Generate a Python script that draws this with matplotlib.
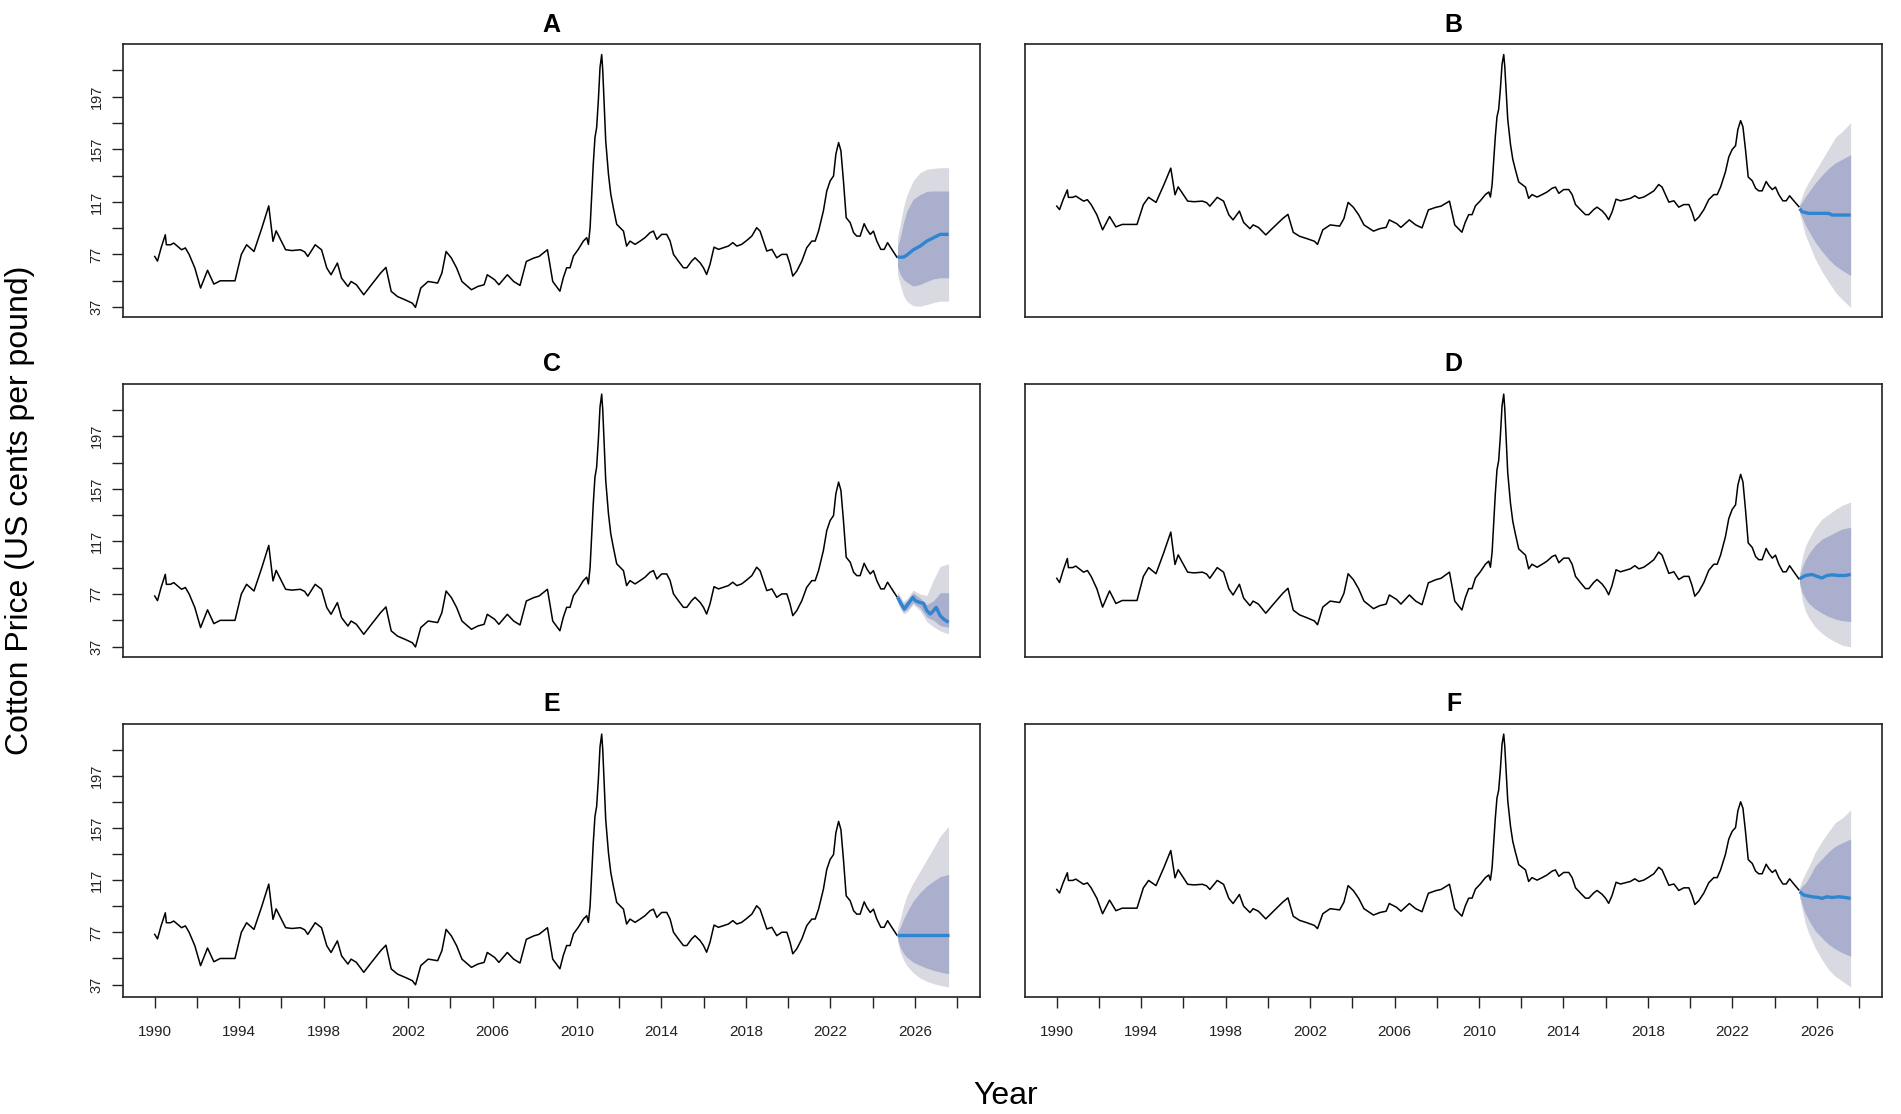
import matplotlib.pyplot as plt

plt.rcParams['font.family'] = ['Liberation Sans', 'DejaVu Sans']

# monthly cotton price, US cents per pound
hist_year = [1990.00, 1990.13, 1990.30, 1990.50, 1990.55, 1990.75, 1990.90, 1991.10, 1991.27, 1991.45,
             1991.63, 1991.90, 1992.17, 1992.50, 1992.80, 1993.10, 1993.40, 1993.80, 1994.10, 1994.35,
             1994.70, 1995.07, 1995.40, 1995.60, 1995.75, 1996.20, 1996.50, 1996.90, 1997.10, 1997.25,
             1997.60, 1997.90, 1998.15, 1998.35, 1998.65, 1998.85, 1999.15, 1999.30, 1999.55, 1999.90,
             2000.20, 2000.70, 2000.95, 2001.20, 2001.50, 2001.85, 2002.20, 2002.35, 2002.60, 2002.95,
             2003.40, 2003.60, 2003.80, 2004.05, 2004.30, 2004.55, 2005.00, 2005.30, 2005.60, 2005.75,
             2006.10, 2006.30, 2006.70, 2007.00, 2007.30, 2007.60, 2007.95, 2008.20, 2008.60, 2008.85,
             2009.19, 2009.35, 2009.51, 2009.67, 2009.83, 2010.06, 2010.30, 2010.46, 2010.54, 2010.62,
             2010.69, 2010.77, 2010.85, 2010.93, 2011.01, 2011.09, 2011.17, 2011.22, 2011.28, 2011.36,
             2011.49, 2011.60, 2011.72, 2011.88, 2012.04, 2012.20, 2012.35, 2012.51, 2012.75, 2012.99,
             2013.22, 2013.46, 2013.62, 2013.78, 2014.01, 2014.25, 2014.41, 2014.57, 2014.80, 2015.04,
             2015.20, 2015.43, 2015.59, 2015.83, 2015.99, 2016.14, 2016.30, 2016.49, 2016.70, 2016.93,
             2017.17, 2017.38, 2017.57, 2017.80, 2018.04, 2018.28, 2018.51, 2018.67, 2018.83, 2018.99,
             2019.23, 2019.46, 2019.70, 2019.94, 2020.09, 2020.22, 2020.41, 2020.65, 2020.88, 2021.12,
             2021.28, 2021.44, 2021.67, 2021.83, 2021.99, 2022.15, 2022.26, 2022.39, 2022.50, 2022.62,
             2022.75, 2022.94, 2023.10, 2023.25, 2023.41, 2023.60, 2023.73, 2023.89, 2024.04, 2024.20,
             2024.39, 2024.55, 2024.71, 2024.91, 2025.15]
hist_price = [75.5, 72, 82, 92, 84.4, 84.4, 85.7, 83, 80.6, 82,
              77, 66.7, 51.5, 65, 54.5, 57, 57, 57, 77, 84.4,
              79.3, 97, 114, 87, 95, 80.6, 80, 80.6, 79, 75.5,
              84.4, 80.6, 66.7, 61.6, 70.5, 59, 52.7, 56.5, 54, 46.4,
              52.7, 62.9, 67.2, 49, 45, 42.6, 40, 36.8, 51.5, 56.5,
              55.3, 62.9, 79.3, 74.3, 66.7, 56.5, 50.2, 52.7, 54, 61.6,
              57.8, 54, 61.6, 56.5, 53.5, 71.7, 74.3, 75.5, 80.6, 56.5,
              49.1, 59.3, 66.9, 66.9, 75.8, 80.9, 87.2, 89.8, 84.7, 97.4,
              120.2, 145.6, 165.9, 173.5, 193.8, 219.2, 229, 216.7, 193.8, 163.4,
              138, 122.8, 112.6, 100, 97.4, 94.8, 83.4, 87.2, 84.7, 87.2,
              89.8, 93.6, 94.8, 88.5, 92.3, 92.3, 87.2, 77.1, 72, 66.9,
              66.9, 72, 74.5, 70.7, 66.9, 61.8, 69.5, 82.6, 80.9, 82.1,
              83.4, 86, 83.4, 84.7, 87.7, 91, 97.4, 94.8, 87.2, 79.6,
              80.9, 74.5, 77.1, 77.1, 69.5, 60.6, 64.4, 72, 82.1, 87.2,
              87.2, 94.8, 110.1, 125.3, 132.9, 136.7, 153.2, 162.1, 155.8, 132.9,
              105, 101.2, 93.6, 91, 91, 100.4, 96.1, 92.3, 94.8, 87.2,
              80.9, 80.9, 86, 80.9, 75]

# forecast horizon used for the interval bands
fc_year = [2025.18, 2025.31, 2025.46, 2025.62, 2025.92, 2026.25, 2026.57, 2026.89, 2027.20, 2027.60]

# A
a_mean_year = fc_year
a_mean = [75, 75, 75, 76.5, 80.5, 83.4, 87.2, 89.8, 92.3, 92.3]
a_hi95 = [90, 100, 112.6, 122, 133, 139.3, 141.8, 142.5, 143, 143]
a_hi80 = [83, 90, 101, 110, 119, 122.5, 125, 125.3, 125.3, 125.3]
a_lo80 = [68, 62, 58, 56, 53, 54.2, 56.5, 58.5, 59.3, 59.3]
a_lo95 = [62, 54, 46, 41.5, 38, 37.7, 39, 40.5, 41.5, 41.5]

# B
b_mean_year = [2025.18, 2025.30, 2025.61, 2026.56, 2026.72, 2027.60]
b_mean = [73, 69.9, 68.2, 68.2, 66.5, 66.5]
b_hi95 = [78, 86, 94, 100, 110.7, 122.5, 134, 145.5, 151, 160]
b_hi80 = [76, 80, 85.2, 90, 98.8, 107, 114, 119.5, 123, 127.7]
b_lo80 = [70, 64, 56.3, 50, 39.3, 29.5, 21.5, 15, 10.5, 5.3]
b_lo95 = [68, 58, 46, 38, 22.3, 9, -1.5, -12, -19, -27]

# C
c_mean_year = [2025.18, 2025.31, 2025.50, 2025.62, 2025.91, 2026.02, 2026.22, 2026.41, 2026.57,
               2026.73, 2026.89, 2027.01, 2027.20, 2027.36, 2027.60]
c_mean = [74.5, 70.7, 65.6, 68.2, 74.5, 72, 70.7, 69.9, 64.4, 61.8, 64.4, 66.9, 60.6, 58, 55.5]
c_hi95 = [78.5, 75.5, 71.5, 73.5, 80, 77, 76, 88, 98, 100]
c_hi80 = [77, 74, 69.5, 71.5, 78, 74, 69, 72, 78, 78]
c_lo80 = [72, 67.5, 63.5, 65, 70.5, 66.5, 59.5, 57, 53, 51.7]
c_lo95 = [70.5, 66, 62, 63, 69, 64.5, 56, 52, 49, 46.6]

# D
d_mean_year = [2025.18, 2025.45, 2025.77, 2026.08, 2026.24, 2026.48, 2026.72, 2027.03, 2027.35, 2027.60]
d_mean = [75, 77.8, 78.7, 76.7, 75.8, 77.8, 78.4, 77.8, 77.8, 78.7]
d_hi95 = [80, 93, 102.5, 108, 117.5, 125, 129, 133, 136.3, 139.1]
d_hi80 = [77, 85, 91, 96, 103, 108.2, 111, 114, 116.6, 118]
d_lo80 = [72, 63.5, 58.5, 54.5, 50, 46.4, 43.5, 41.5, 40.2, 39.4]
d_lo95 = [70, 57, 48, 42.5, 35, 29.5, 25.5, 22.5, 19.7, 18.3]

# E
e_mean_year = [2025.18, 2027.60]
e_mean = [75, 75]
e_hi95 = [80, 87.2, 97, 105, 115, 124, 133, 141.8, 150.7, 158.3]
e_hi80 = [77.5, 80.9, 87, 92.3, 101, 107.6, 112.6, 116.4, 119.7, 121.5]
e_lo80 = [72.5, 65.6, 61, 58, 54.2, 51.7, 49.6, 47.9, 46.6, 45.3]
e_lo95 = [70, 61.8, 56, 51.7, 46.1, 42, 39.5, 37.7, 36.4, 35.2]

# F
f_mean_year = [2025.18, 2025.38, 2025.77, 2026.08, 2026.24, 2026.48, 2026.72, 2027.03, 2027.35, 2027.60]
f_mean = [73.4, 70, 68.3, 67.6, 66.6, 68.3, 67.5, 68.3, 67.6, 66.6]
f_hi95 = [78, 85, 91.8, 98, 112, 123.5, 133, 142, 146, 154]
f_hi80 = [75.5, 79, 81.8, 87, 98.6, 106, 113, 118.5, 121.5, 125.5]
f_lo80 = [70, 60, 51.5, 45, 34.7, 27.5, 21, 16.5, 13, 9.5]
f_lo95 = [68, 55, 41.4, 32, 17.9, 6, -4, -10.5, -15, -20.8]

y_ticks = list(range(37, 218, 20))
y_labels = [str(t) if (t - 37) % 40 == 0 else '' for t in y_ticks]
x_ticks = list(range(1990, 2029, 2))
x_labels = [str(t) if (t - 1990) % 4 == 0 and t <= 2026 else '' for t in x_ticks]

LIGHT = '#D9D9E1'
DARK = '#ABAFCE'
BLUE = '#2F86D0'

panels = [
    ('A', a_mean_year, a_mean, a_lo95, a_lo80, a_hi80, a_hi95),
    ('B', b_mean_year, b_mean, b_lo95, b_lo80, b_hi80, b_hi95),
    ('C', c_mean_year, c_mean, c_lo95, c_lo80, c_hi80, c_hi95),
    ('D', d_mean_year, d_mean, d_lo95, d_lo80, d_hi80, d_hi95),
    ('E', e_mean_year, e_mean, e_lo95, e_lo80, e_hi80, e_hi95),
    ('F', f_mean_year, f_mean, f_lo95, f_lo80, f_hi80, f_hi95),
]

fig = plt.figure(figsize=(19.01, 11.14), dpi=100)

lefts = [0.0647, 0.5392]
bottoms = [0.7150, 0.4102, 0.1050]
w, h = 0.4510, 0.2451

for i, (name, my, mv, lo95, lo80, hi80, hi95) in enumerate(panels):
    row, col = divmod(i, 2)
    ax = fig.add_axes([lefts[col], bottoms[row], w, h])
    ax.fill_between(fc_year, lo95, hi95, color=LIGHT, lw=0)
    ax.fill_between(fc_year, lo80, hi80, color=DARK, lw=0)
    ax.plot(hist_year, hist_price, color='black', lw=1.1)
    ax.plot(my, mv, color=BLUE, lw=2.4, solid_capstyle='butt')

    # R style limits: data range plus 4 percent
    x0, x1 = hist_year[0], fc_year[-1]
    px = 0.04 * (x1 - x0)
    ax.set_xlim(x0 - px, x1 + px)
    y0 = min(min(hist_price), min(lo95))
    y1 = max(max(hist_price), max(hi95))
    py = 0.04 * (y1 - y0)
    ax.set_ylim(y0 - py, y1 + py)

    for s in ax.spines.values():
        s.set_linewidth(1.2)
        s.set_color('#222222')

    ax.set_title(name, fontsize=18, fontweight='bold', pad=9)

    if col == 0:
        ax.set_yticks(y_ticks)
        ax.set_yticklabels(y_labels, rotation=90, va='center')
        ax.tick_params(axis='y', length=8, width=1.0, pad=6, labelsize=10.5, colors='#222222')
    else:
        ax.set_yticks([])

    if row == 2:
        ax.set_xticks(x_ticks)
        ax.set_xticklabels(x_labels)
        ax.tick_params(axis='x', length=8, width=1.0, pad=12, labelsize=11, colors='#222222')
    else:
        ax.set_xticks([])

fig.text(0.0105, 0.542, 'Cotton Price (US cents per pound)', rotation=90,
         ha='center', va='center', fontsize=23)
fig.text(0.529, 0.016, 'Year', ha='center', va='center', fontsize=23)

fig.savefig('out.png', dpi=100)
